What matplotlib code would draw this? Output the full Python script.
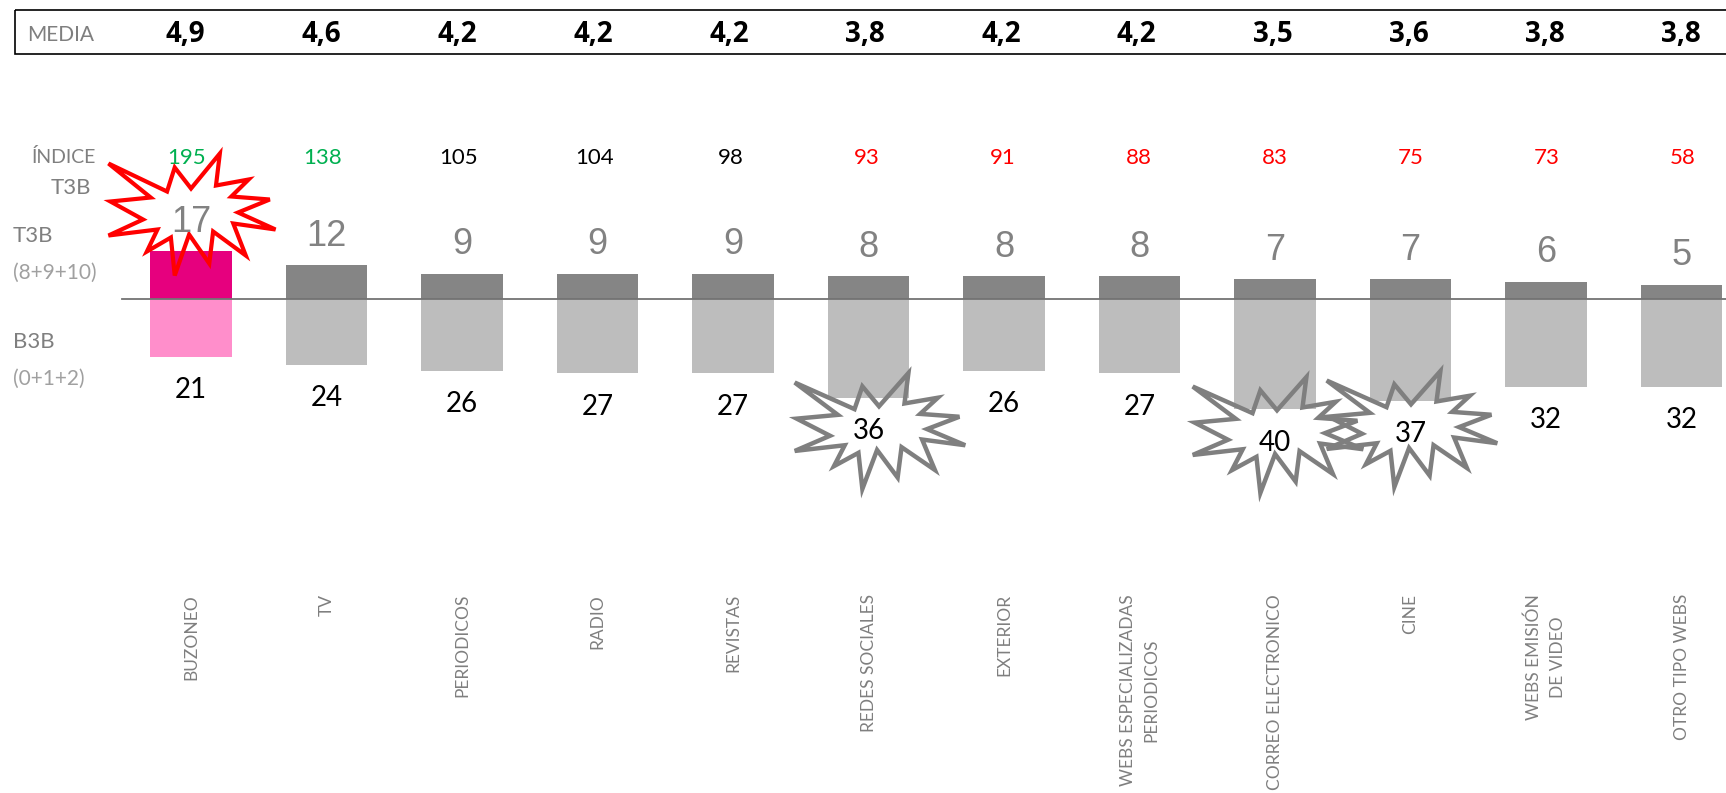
import matplotlib
matplotlib.use('Agg')
import matplotlib.pyplot as plt
import numpy as np
from matplotlib.patches import Polygon, Rectangle
from matplotlib.transforms import Affine2D

# datos por medio
medios = ['BUZONEO', 'TV', 'PERIODICOS', 'RADIO', 'REVISTAS', 'REDES SOCIALES', 'EXTERIOR',
          'WEBS ESPECIALIZADAS\nPERIODICOS', 'CORREO ELECTRONICO', 'CINE', 'WEBS EMISIÓN\nDE VIDEO', 'OTRO TIPO WEBS']
media = ['4,9', '4,6', '4,2', '4,2', '4,2', '3,8', '4,2', '4,2', '3,5', '3,6', '3,8', '3,8']
indice = [195, 138, 105, 104, 98, 93, 91, 88, 83, 75, 73, 58]
t3b = [17, 12, 9, 9, 9, 8, 8, 8, 7, 7, 6, 5]
b3b = [21, 24, 26, 27, 27, 36, 26, 27, 40, 37, 32, 32]

# forma de la estrella, en pixeles respecto a su centro
estrella_x = [-87, -26, -18, -1, 29, 25, 59, 41, 81, 48, 87, 43, 56, 22, 18, -3, -18, -22, -47, -36, -87, -51, -85, -43]
estrella_y = [-51, -23, -47, -26, -61, -29, -35, -18, -15, -2, 15, 9, 41, 17, 49, 20, 61, 23, 37, 15, 21, 5, -13, -17]

FINA = dict(family='Lato')
GRIS = '#7f7f7f'
W, H = 1726, 793
PASO, X0 = 135.5, 191
ESCALA, Y0 = 2.77, 298.5

fig = plt.figure(figsize=(W / 100, H / 100), dpi=100)
ax = fig.add_axes([0, 0, 1, 1])
ax.set_xlim(-X0 / PASO, (W - X0) / PASO)
ax.set_ylim(-(H - Y0) / ESCALA, Y0 / ESCALA)
ax.axis('off')
px = Affine2D().scale(1 / W, -1 / H).translate(0, 1) + fig.transFigure

x = np.arange(len(medios))
ax.bar(x, t3b, width=0.605, color=['#e6007e'] + ['#858585'] * 11, zorder=2)
ax.bar(x, -np.array(b3b), width=0.605, color=['#ff8ecb'] + ['#bdbdbd'] * 11, zorder=2)
ax.plot([122, W], [Y0, Y0], color='#737373', lw=1.3, transform=px, zorder=3)

# cabecera con la media
ax.add_patch(Rectangle((15, 10), W, 44, fill=False, ec='black', lw=1.2, transform=px, clip_on=False))
ax.text(61, 35, 'MEDIA', color=GRIS, fontsize=15, ha='center', va='center', transform=px, **FINA)

colores = ['#00b050'] * 2 + ['black'] * 3 + ['#ff0000'] * 7
for i in x:
    ax.text(185.5 + 135.9 * i, 35, media[i], fontsize=20, fontweight='bold', family='Open Sans',
            ha='center', va='center', transform=px)
    ax.text(186.5 + 136 * i, 158, str(indice[i]), color=colores[i], fontsize=16,
            ha='center', va='center', transform=px, **FINA)
    ax.text(i, t3b[i] + 10.5, str(t3b[i]), color='#828282', fontsize=26, family='Liberation Sans',
            ha='center', va='center', zorder=5)
    ax.text(i, -b3b[i] - 12, str(b3b[i]), color='black', fontsize=20,
            ha='center', va='center', zorder=5, **FINA)
    ax.text(i, -(594 - Y0) / ESCALA, medios[i], color=GRIS, fontsize=12.5, rotation=90,
            ha='center', va='top', multialignment='center', linespacing=1.6, **FINA)

# rotulos de la izquierda
ax.text(96, 157, 'ÍNDICE', color=GRIS, fontsize=14, ha='right', va='center', transform=px, **FINA)
ax.text(91, 188, 'T3B', color=GRIS, fontsize=16, ha='right', va='center', transform=px, **FINA)
ax.text(13, 236, 'T3B', color=GRIS, fontsize=16, ha='left', va='center', transform=px, **FINA)
ax.text(13, 273, '(8+9+10)', color='#a0a0a0', fontsize=15, ha='left', va='center', transform=px, **FINA)
ax.text(13, 342, 'B3B', color=GRIS, fontsize=16, ha='left', va='center', transform=px, **FINA)
ax.text(13, 379, '(0+1+2)', color='#a0a0a0', fontsize=15, ha='left', va='center', transform=px, **FINA)

# estrellas que destacan valores: centro, color, grosor y escala
estrellas = [(192, 214.5, '#ff0000', 3, 0.96, 1.0), (880, 431, GRIS, 3.2, 0.98, 0.95),
             (1278, 435, GRIS, 3.2, 0.98, 0.95), (1412, 429, GRIS, 3.2, 0.98, 0.95)]
for cx, cy, color, grosor, ex, ey in estrellas:
    puntos = np.column_stack([np.array(estrella_x) * ex + cx, np.array(estrella_y) * ey + cy])
    ax.add_patch(Polygon(puntos, closed=True, fill=False, ec=color, lw=grosor, joinstyle='miter',
                         transform=px, zorder=4))

fig.savefig('out.png', dpi=100, facecolor='white')
